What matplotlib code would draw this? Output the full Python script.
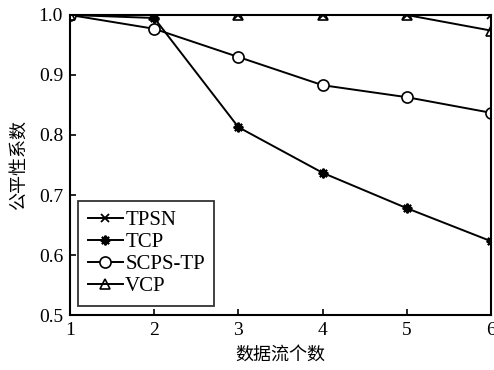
import matplotlib
matplotlib.use("Agg")
import matplotlib.pyplot as plt

flows = [1, 2, 3, 4, 5, 6]
tpsn = [1.0, 1.0, 1.0, 1.0, 1.0, 1.0]
tcp = [1.0, 0.995, 0.813, 0.737, 0.678, 0.623]
scps_tp = [1.0, 0.977, 0.930, 0.883, 0.863, 0.837]
vcp = [1.0, 1.0, 1.0, 1.0, 1.0, 0.974]
y_ticks = [0.5, 0.6, 0.7, 0.8, 0.9, 1.0]

serif = ["Liberation Serif", "DejaVu Serif"]
cjk = ["Noto Sans CJK SC", "DejaVu Sans"]
plt.rcParams["font.family"] = serif

fig = plt.figure(figsize=(4.94, 3.70), dpi=100)
ax = fig.add_axes([0.1417, 0.1486, 0.8523, 0.8109])

lw = 1.4
ax.plot(flows, tpsn, color="black", lw=lw, marker="x", ms=6, mew=1.3, label="TPSN")
ax.plot(flows, tcp, color="black", lw=lw, marker=(8, 2, 0), ms=7, mew=1.5, label="TCP")
ax.plot(flows, scps_tp, color="black", lw=lw, marker="o", ms=8, mfc="white", mew=1.2, label="SCPS-TP")
ax.plot(flows, vcp, color="black", lw=lw, marker="^", ms=6.5, mfc="none", mew=1.2, label="VCP")

ax.set_xlim(1, 6)
ax.set_ylim(0.5, 1.0)
ax.set_xticks(flows)
ax.set_yticks(y_ticks)
ax.set_yticklabels([f"{v:.1f}" for v in y_ticks])
ax.tick_params(direction="in", length=4, width=1.2, labelsize=14, colors="black", pad=5)
for s in ax.spines.values():
    s.set_linewidth(1.5)

ax.set_xlabel("数据流个数", family=cjk, fontsize=13, labelpad=5)
ax.set_ylabel("公平性系数", family=cjk, fontsize=13, labelpad=8)

leg = ax.legend(loc="lower left", bbox_to_anchor=(0.005, 0.01), fontsize=15, frameon=True,
                fancybox=False, edgecolor="black", handlelength=1.7, handletextpad=0.1,
                labelspacing=0.12, borderpad=0.45, borderaxespad=0.3)
leg.get_frame().set_linewidth(1.3)

fig.savefig("out.png", dpi=100)
